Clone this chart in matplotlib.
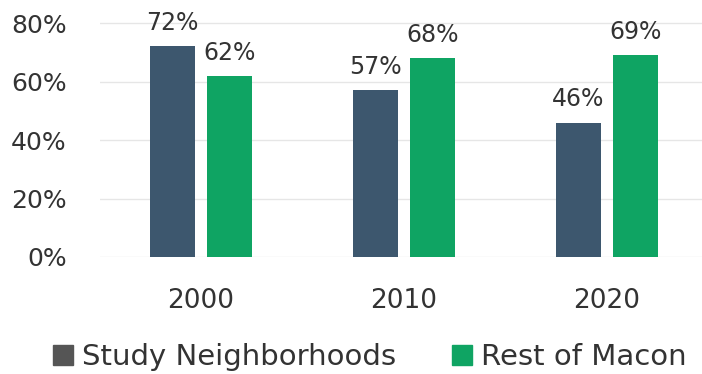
import matplotlib
matplotlib.use("Agg")
import matplotlib.pyplot as plt
from matplotlib.lines import Line2D
import numpy as np

years = ["2000", "2010", "2020"]
study = [72, 57, 46]
rest = [62, 68, 69]
series_names = ["Study Neighborhoods", "Rest of Macon"]
yticks = [0, 20, 40, 60, 80]

c_study = "#3D576E"
c_rest = "#0FA463"
txt = "#333333"

plt.rcParams['font.family'] = ['DejaVu Sans']

fig = plt.figure(figsize=(7.02, 3.74), dpi=100)
ax = fig.add_axes([100/702, 117/374, 602/702, 257/374])

x = np.arange(len(years))
w = 0.22
off = 0.14
b1 = ax.bar(x - off, study, w, color=c_study, zorder=3)
b2 = ax.bar(x + off, rest, w, color=c_rest, zorder=3)

for bars, vals in ((b1, study), (b2, rest)):
    for b, v in zip(bars, vals):
        ax.text(b.get_x() + b.get_width()/2, v + 3.8, f"{v}%", ha="center", va="bottom",
                fontsize=17, color=txt)

ax.set_xlim(-0.497, 2.468)
ax.set_ylim(0, 87.9)
ax.set_yticks(yticks)
ax.set_yticklabels([f"{t}%" for t in yticks])
ax.set_xticks(x)
ax.set_xticklabels(years)
ax.tick_params(axis="y", length=0, pad=24, labelsize=18, labelcolor=txt)
ax.tick_params(axis="x", length=0, pad=22, labelsize=19, labelcolor=txt)
ax.grid(axis="y", color="#e6e6e6", linewidth=1, zorder=0)
for s in ax.spines.values():
    s.set_visible(False)

handles = [Line2D([], [], marker="s", linestyle="none", markersize=14, color="#555555"),
           Line2D([], [], marker="s", linestyle="none", markersize=14, color=c_rest)]
leg = fig.legend(handles, series_names, loc="center", bbox_to_anchor=(370/702, 1 - 357/374),
                 ncol=2, frameon=False, fontsize=21, handletextpad=0.3, columnspacing=1.9,
                 handlelength=0.7, labelcolor=txt, borderpad=0, borderaxespad=0)

fig.savefig("out.png", dpi=100)
